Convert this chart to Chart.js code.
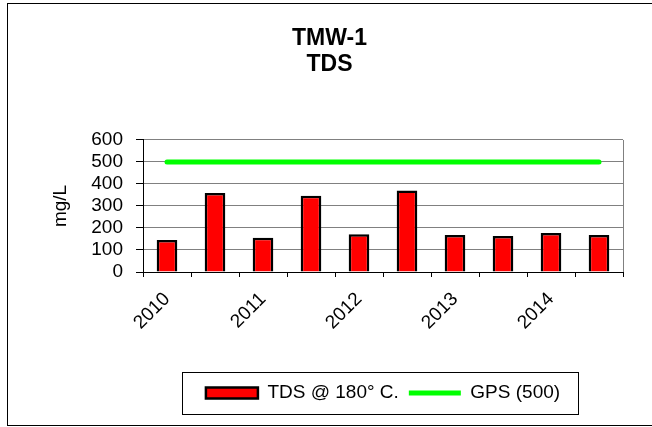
<!DOCTYPE html>
<html lang="en">
<head>
    <meta charset="UTF-8">
    <title>TMW-1 TDS</title>
    <script src="https://cdn.jsdelivr.net/npm/chart.js"></script>
    <style>
        body { margin: 0; background: #fff; }
        canvas { display: block; }
    </style>
</head>
<body>
    <canvas id="chart" width="652" height="427"></canvas>

    <script>
        // sample labels (two samples a year, only the first one is labelled)
        const sampleLabels = ['2010', '', '2011', '', '2012', '', '2013', '', '2014', ''];
        const tdsValues = [145, 359, 156, 347, 171, 370, 168, 164, 177, 168];
        const gpsValues = [500, 500, 500, 500, 500, 500, 500, 500, 500, 500];
        const yMin = 0, yMax = 600, yStep = 100;

        const fontFamily = "Arial, 'Liberation Sans', sans-serif";
        Chart.defaults.color = '#000';
        Chart.defaults.font.family = fontFamily;

        // white background + outer frame
        const framePlugin = {
            id: 'frame',
            beforeDraw(chart) {
                const ctx = chart.ctx;
                ctx.save();
                ctx.fillStyle = '#fff';
                ctx.fillRect(0, 0, chart.width, chart.height);
                ctx.strokeStyle = '#000';
                ctx.lineWidth = 1;
                ctx.strokeRect(7.5, 3.5, 660, 422);
                ctx.restore();
            },
            afterDraw(chart) {
                const ctx = chart.ctx;
                const a = chart.chartArea;
                ctx.save();
                // right edge of plot area
                ctx.strokeStyle = '#808080';
                ctx.lineWidth = 1;
                ctx.beginPath();
                ctx.moveTo(Math.round(a.right) + 0.5, a.top);
                ctx.lineTo(Math.round(a.right) + 0.5, a.bottom);
                ctx.stroke();
                // box round the legend
                const hb = chart.legend.legendHitBoxes;
                if (hb && hb.length) {
                    const left = Math.min(...hb.map(h => h.left)) - 24;
                    const right = Math.max(...hb.map(h => h.left + h.width)) + 18;
                    const cy = hb[0].top + hb[0].height / 2;
                    ctx.strokeStyle = '#000';
                    ctx.strokeRect(Math.round(left) + 0.5, Math.round(cy - 21) + 0.5, Math.round(right - left), 42);
                }
                ctx.restore();
            }
        };

        new Chart(document.getElementById('chart'), {
            type: 'bar',
            data: {
                labels: sampleLabels,
                datasets: [
                    {
                        label: 'TDS @ 180° C.',
                        data: tdsValues,
                        backgroundColor: '#ff0000',
                        borderColor: '#000',
                        borderWidth: 2.5,
                        barPercentage: 0.43,
                        categoryPercentage: 1,
                        pointStyle: 'rect'
                    },
                    {
                        type: 'line',
                        label: 'GPS (500)',
                        data: gpsValues,
                        borderColor: '#00ff00',
                        backgroundColor: '#00ff00',
                        borderWidth: 5,
                        borderCapStyle: 'round',
                        pointRadius: 0,
                        pointStyle: 'line'
                    }
                ]
            },
            options: {
                responsive: false,
                animation: false,
                layout: { padding: { left: 36, right: 29, top: 0, bottom: 14.5 } },
                scales: {
                    x: {
                        offset: true,
                        grid: { offset: true, drawOnChartArea: false, color: '#000', tickLength: 5 },
                        border: { color: '#000', width: 1 },
                        ticks: {
                            autoSkip: false,
                            minRotation: 45,
                            maxRotation: 45,
                            padding: 11,
                            font: { size: 19 }
                        },
                        afterFit: s => { s.height = 101.5; }
                    },
                    y: {
                        min: yMin,
                        max: yMax,
                        ticks: { stepSize: yStep, autoSkip: false, padding: 13, font: { size: 19 } },
                        grid: { color: '#808080', tickColor: '#000', tickLength: 7 },
                        border: { color: '#000', width: 1 },
                        title: {
                            display: true,
                            text: 'mg/L',
                            font: { size: 19 },
                            padding: { top: 13.6, bottom: 0 }
                        },
                        afterFit: s => { s.width = 107; }
                    }
                },
                plugins: {
                    title: {
                        display: true,
                        text: ['TMW-1', 'TDS'],
                        font: { size: 23, weight: 'bold', lineHeight: 1.16 },
                        padding: { top: 25, bottom: 61.6 }
                    },
                    legend: {
                        position: 'bottom',
                        fullSize: false,
                        labels: {
                            usePointStyle: true,
                            pointStyleWidth: 52,
                            boxHeight: 11,
                            padding: 10,
                            font: { size: 19 }
                        }
                    },
                    tooltip: { enabled: false }
                }
            },
            plugins: [framePlugin]
        });
    </script>
</body>
</html>
